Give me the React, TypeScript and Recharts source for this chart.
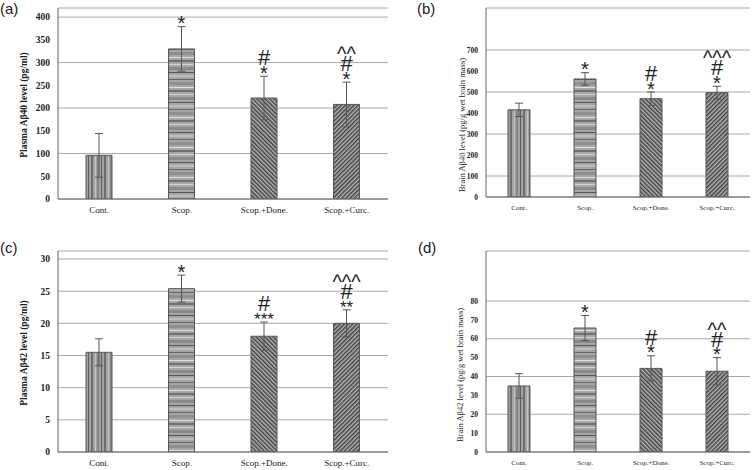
import React from "react";
import { BarChart, Bar, XAxis, YAxis, CartesianGrid, Cell, ErrorBar, LabelList } from "recharts";

const groups = ["Cont.", "Scop.", "Scop.+Done.", "Scop.+Curc."];

// (a) plasma Aβ40, pg/ml
const plasma40 = [96, 330, 222, 208];
const plasma40Err = [48, 49, 48, 49];
const plasma40Marks = [[], ["*"], ["*", "#"], ["*", "#", "^^"]];
const plasma40Ticks = [0, 50, 100, 150, 200, 250, 300, 350, 400];

// (b) brain Aβ40, pg/g wet brain mass
const brain40 = [415, 562, 468, 497];
const brain40Err = [32, 30, 32, 30];
const brain40Marks = [[], ["*"], ["*", "#"], ["*", "#", "^^^"]];
const brain40Ticks = [0, 100, 200, 300, 400, 500, 600, 700];

// (c) plasma Aβ42, pg/ml
const plasma42 = [15.5, 25.4, 18.0, 20.0];
const plasma42Err = [2.1, 2.1, 2.2, 2.1];
const plasma42Marks = [[], ["*"], ["***", "#"], ["**", "#", "^^^"]];
const plasma42Ticks = [0, 5, 10, 15, 20, 25, 30];

// (d) brain Aβ42, pg/g wet brain mass
const brain42 = [35, 65.7, 44.3, 42.8];
const brain42Err = [6.5, 6.6, 6.7, 7.2];
const brain42Marks = [[], ["*"], ["*", "#"], ["*", "#", "^^"]];
const brain42Ticks = [0, 10, 20, 30, 40, 50, 60, 70, 80];

const serif = "'Liberation Serif', 'Times New Roman', serif";
const sans = "'Liberation Sans', Arial, sans-serif";

// glyph size and baseline shift relative to the top of the error bar
const markStyle: Record<string, { fs: number; dy: number }> = {
  "*": { fs: 20, dy: 3.5 },
  "**": { fs: 17, dy: 3 },
  "#": { fs: 22, dy: -11 },
  "^": { fs: 20, dy: -21 },
};

const Patterns = ({ p }: { p: string }) => (
  <defs>
    <pattern id={`${p}-cont`} width={13} height={10} patternUnits="userSpaceOnUse">
      <rect width={13} height={10} fill="#a2a2a2" />
      <rect x={0} width={2} height={10} fill="#6e6e6e" />
      <rect x={4} width={1} height={10} fill="#c4c4c4" />
      <rect x={6} width={2} height={10} fill="#858585" />
      <rect x={10} width={1} height={10} fill="#5e5e5e" />
    </pattern>
    <pattern id={`${p}-scop`} width={10} height={30} patternUnits="userSpaceOnUse">
      <rect width={10} height={30} fill="#a6a6a6" />
      <rect y={0} width={10} height={2} fill="#707070" />
      <rect y={4} width={10} height={1} fill="#d2d2d2" />
      <rect y={7} width={10} height={3} fill="#8a8a8a" />
      <rect y={12} width={10} height={1} fill="#555555" />
      <rect y={15} width={10} height={2} fill="#bdbdbd" />
      <rect y={19} width={10} height={1} fill="#666666" />
      <rect y={22} width={10} height={3} fill="#909090" />
      <rect y={27} width={10} height={1} fill="#e0e0e0" />
    </pattern>
    <pattern id={`${p}-done`} width={3} height={3} patternUnits="userSpaceOnUse" patternTransform="rotate(-45)">
      <rect width={3} height={3} fill="#b4b4b4" />
      <rect width={1.5} height={3} fill="#404040" />
    </pattern>
    <pattern id={`${p}-curc`} width={3} height={3} patternUnits="userSpaceOnUse" patternTransform="rotate(45)">
      <rect width={3} height={3} fill="#b4b4b4" />
      <rect width={1.5} height={3} fill="#404040" />
    </pattern>
  </defs>
);

const fills = ["cont", "scop", "done", "curc"];

const makeMarks = (marks: string[][], errs: number[]) =>
  // eslint-disable-next-line @typescript-eslint/no-explicit-any
  (props: any) => {
    const { index, value } = props;
    const x = props.x ?? props.viewBox?.x;
    const y = props.y ?? props.viewBox?.y;
    const width = props.width ?? props.viewBox?.width;
    const height = props.height ?? props.viewBox?.height;
    const lines = marks[index];
    if (!lines || !lines.length || !value) return null;
    const k = height / value;
    const top = y - errs[index] * k;
    const cx = x + width / 2;
    return (
      <g>
        {lines.map((s, i) => {
          const st = s.startsWith("**") ? markStyle["**"] : markStyle[s[0]];
          return (
            <text key={i} x={cx} y={top + st.dy} textAnchor="middle" fontSize={st.fs}
              fontFamily={sans} fill="#222">
              {s}
            </text>
          );
        })}
      </g>
    );
  };

interface PanelProps {
  pid: string;
  left: number;
  top: number;
  width: number;
  height: number;
  yw: number;
  max: number;
  ticks: number[];
  values: number[];
  errs: number[];
  marks: string[][];
  tickFs: number;
  catFs: number;
  barSize: number;
}

function Panel(p: PanelProps) {
  const data = groups.map((g, i) => ({ name: g, v: p.values[i], e: p.errs[i] }));
  return (
    <div style={{ position: "absolute", left: p.left, top: p.top }}>
      <BarChart width={p.width} height={p.height} data={data}
        margin={{ top: 8, right: 2, left: 0, bottom: 0 }}>
        <Patterns p={p.pid} />
        <CartesianGrid vertical={false} stroke="#a8a8a8" strokeWidth={1} />
        <XAxis dataKey="name" tickLine={false} axisLine={{ stroke: "#666" }} height={20}
          interval={0}
          tick={{ fontSize: p.catFs, fontFamily: serif, fill: "#222" }} />
        <YAxis width={p.yw} domain={[0, p.max]} ticks={p.ticks} tickLine={false}
          axisLine={{ stroke: "#666" }} allowDataOverflow
          tick={{ fontSize: p.tickFs, fontFamily: serif, fontWeight: "bold", fill: "#222" }} />
        <Bar dataKey="v" barSize={p.barSize} isAnimationActive={false}>
          {data.map((d, i) => (
            <Cell key={d.name} fill={`url(#${p.pid}-${fills[i]})`} stroke="#555" strokeWidth={1} />
          ))}
          <ErrorBar dataKey="e" width={4} stroke="#555" strokeWidth={1} isAnimationActive={false} />
          <LabelList dataKey="v" content={makeMarks(p.marks, p.errs)} />
        </Bar>
      </BarChart>
    </div>
  );
}

const YTitle = ({ x, y, fs, bold, text }: { x: number; y: number; fs: number; bold?: boolean; text: string }) => (
  <div style={{
    position: "absolute", left: x, top: y, transform: "translate(-50%, -50%) rotate(-90deg)",
    whiteSpace: "nowrap", fontFamily: serif, fontSize: fs, fontWeight: bold ? "bold" : "normal", color: "#222",
  }}>
    {text}
  </div>
);

const PanelTag = ({ x, y, text }: { x: number; y: number; text: string }) => (
  <div style={{ position: "absolute", left: x, top: y, fontFamily: sans, fontSize: 15, color: "#222", lineHeight: 1 }}>
    {text}
  </div>
);

export default function App() {
  return (
    <div style={{ position: "fixed", left: 0, top: 0, width: 753, height: 470, background: "#fff", overflow: "hidden" }}>
      <Panel pid="pa" left={0} top={0} width={390} height={219} yw={58} max={420}
        ticks={plasma40Ticks} values={plasma40} errs={plasma40Err} marks={plasma40Marks}
        tickFs={9.5} catFs={9} barSize={26} />
      <Panel pid="pb" left={380} top={0} width={372} height={217} yw={106} max={900}
        ticks={brain40Ticks} values={brain40} errs={brain40Err} marks={brain40Marks}
        tickFs={7.5} catFs={7} barSize={22} />
      <Panel pid="pc" left={0} top={243} width={390} height={229} yw={58} max={31.25}
        ticks={plasma42Ticks} values={plasma42} errs={plasma42Err} marks={plasma42Marks}
        tickFs={9.5} catFs={9} barSize={26} />
      <Panel pid="pd" left={380} top={243} width={372} height={229} yw={106} max={106.5}
        ticks={brain42Ticks} values={brain42} errs={brain42Err} marks={brain42Marks}
        tickFs={7.5} catFs={7} barSize={22} />

      <YTitle x={24} y={105} fs={9.5} bold text="Plasma Aβ40 level (pg/ml)" />
      <YTitle x={462} y={125} fs={8.5} text="Brain Aβ40 level (pg/g wet brain mass)" />
      <YTitle x={24} y={353} fs={9.5} bold text="Plasma Aβ42 level (pg/ml)" />
      <YTitle x={460} y={375} fs={8.5} text="Brain Aβ42 level (pg/g wet brain mass)" />

      <PanelTag x={0} y={1} text="(a)" />
      <PanelTag x={417} y={1} text="(b)" />
      <PanelTag x={0} y={240} text="(c)" />
      <PanelTag x={418} y={240} text="(d)" />
    </div>
  );
}
